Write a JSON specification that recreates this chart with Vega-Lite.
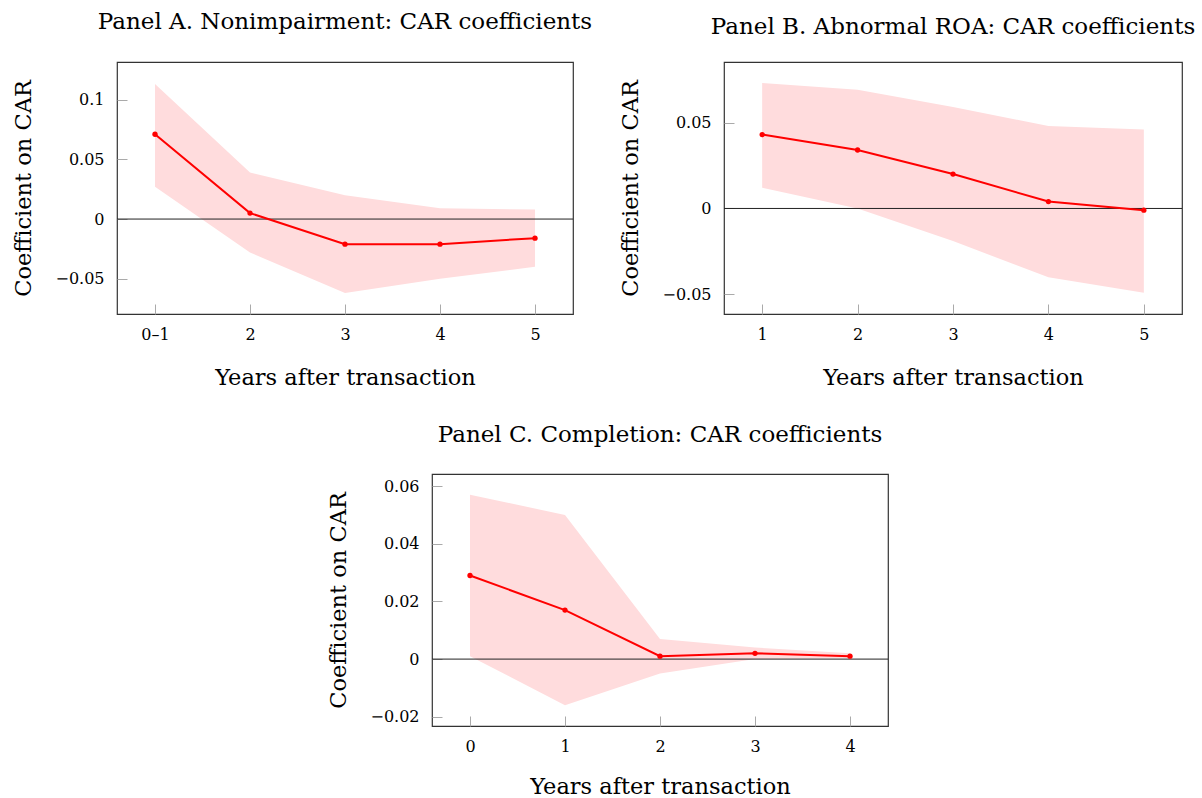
{
  "$schema": "https://vega.github.io/schema/vega-lite/v6.json",
  "background": "white",
  "padding": {"left": 12, "top": 10, "right": 0, "bottom": 0},
  "config": {
    "font": "DejaVu Serif",
    "view": {"stroke": "#333", "strokeWidth": 1.2},
    "axis": {
      "grid": false,
      "domain": false,
      "tickColor": "#aaa",
      "tickSize": -10,
      "labelFont": "DejaVu Serif",
      "labelFontSize": 16,
      "labelColor": "#000",
      "titleFont": "DejaVu Serif",
      "titleFontSize": 22.5,
      "titleFontWeight": "normal",
      "titleColor": "#000"
    },
    "axisX": {"labelPadding": 22, "titlePadding": 24, "labelAngle": 0},
    "axisY": {"labelPadding": 23, "titlePadding": 19},
    "title": {"font": "DejaVu Serif", "fontSize": 23, "fontWeight": "normal", "color": "#000"}
  },
  "datasets": {
    "nonimpairment": [
      {"period": "0–1", "coef": 0.071, "lo": 0.027, "hi": 0.113},
      {"period": "2", "coef": 0.005, "lo": -0.028, "hi": 0.039},
      {"period": "3", "coef": -0.021, "lo": -0.062, "hi": 0.020},
      {"period": "4", "coef": -0.021, "lo": -0.050, "hi": 0.009},
      {"period": "5", "coef": -0.016, "lo": -0.040, "hi": 0.008}
    ],
    "abnormal_roa": [
      {"period": "1", "coef": 0.043, "lo": 0.012, "hi": 0.073},
      {"period": "2", "coef": 0.034, "lo": 0.000, "hi": 0.069},
      {"period": "3", "coef": 0.020, "lo": -0.019, "hi": 0.059},
      {"period": "4", "coef": 0.004, "lo": -0.040, "hi": 0.048},
      {"period": "5", "coef": -0.001, "lo": -0.049, "hi": 0.046}
    ],
    "completion": [
      {"period": "0", "coef": 0.029, "lo": 0.001, "hi": 0.057},
      {"period": "1", "coef": 0.017, "lo": -0.016, "hi": 0.050},
      {"period": "2", "coef": 0.001, "lo": -0.005, "hi": 0.007},
      {"period": "3", "coef": 0.002, "lo": 0.000, "hi": 0.004},
      {"period": "4", "coef": 0.001, "lo": 0.0004, "hi": 0.002}
    ],
    "zero": [{"z": 0}]
  },
  "spacing": 33,
  "vconcat": [
    {
      "spacing": 151,
      "bounds": "flush",
      "hconcat": [
        {
          "title": {"text": "Panel A. Nonimpairment: CAR coefficients", "offset": 28},
          "width": 456,
          "height": 252,
          "layer": [
            {
              "data": {"name": "nonimpairment"},
              "mark": {"type": "area", "color": "#ffdcdd", "opacity": 1},
              "encoding": {
                "x": {"field": "period", "type": "ordinal", "sort": null, "scale": {"type": "point", "padding": 0.4}, "title": "Years after transaction"},
                "y": {"field": "lo", "type": "quantitative", "scale": {"domain": [-0.0795, 0.1315], "nice": false, "zero": false}, "axis": {"values": [-0.05, 0, 0.05, 0.1], "format": ".2~f"}, "title": "Coefficient on CAR"},
                "y2": {"field": "hi"}
              }
            },
            {
              "data": {"name": "zero"},
              "mark": {"type": "rule", "color": "#222", "strokeWidth": 1},
              "encoding": {"y": {"field": "z", "type": "quantitative"}}
            },
            {
              "data": {"name": "nonimpairment"},
              "mark": {"type": "line", "color": "red", "strokeWidth": 2, "point": {"filled": true, "color": "red", "size": 28}},
              "encoding": {
                "x": {"field": "period", "type": "ordinal", "sort": null},
                "y": {"field": "coef", "type": "quantitative"}
              }
            }
          ]
        },
        {
          "title": {"text": "Panel B. Abnormal ROA: CAR coefficients", "offset": 23},
          "width": 458,
          "height": 252,
          "layer": [
            {
              "data": {"name": "abnormal_roa"},
              "mark": {"type": "area", "color": "#ffdcdd", "opacity": 1},
              "encoding": {
                "x": {"field": "period", "type": "ordinal", "sort": null, "scale": {"type": "point", "padding": 0.4}, "title": "Years after transaction"},
                "y": {"field": "lo", "type": "quantitative", "scale": {"domain": [-0.0614, 0.0852], "nice": false, "zero": false}, "axis": {"values": [-0.05, 0, 0.05], "format": ".2~f"}, "title": "Coefficient on CAR"},
                "y2": {"field": "hi"}
              }
            },
            {
              "data": {"name": "zero"},
              "mark": {"type": "rule", "color": "#222", "strokeWidth": 1},
              "encoding": {"y": {"field": "z", "type": "quantitative"}}
            },
            {
              "data": {"name": "abnormal_roa"},
              "mark": {"type": "line", "color": "red", "strokeWidth": 2, "point": {"filled": true, "color": "red", "size": 28}},
              "encoding": {
                "x": {"field": "period", "type": "ordinal", "sort": null},
                "y": {"field": "coef", "type": "quantitative"}
              }
            }
          ]
        }
      ]
    },
    {
      "spacing": 15,
      "bounds": "flush",
      "hconcat": [
        {
          "width": 300,
          "height": 252,
          "view": {"stroke": null},
          "data": {"values": []},
          "mark": "point"
        },
        {
          "title": {"text": "Panel C. Completion: CAR coefficients", "offset": 27},
          "width": 456,
          "height": 252,
          "layer": [
            {
              "data": {"name": "completion"},
              "mark": {"type": "area", "color": "#ffdcdd", "opacity": 1},
              "encoding": {
                "x": {"field": "period", "type": "ordinal", "sort": null, "scale": {"type": "point", "padding": 0.4}, "axis": {"titlePadding": 21}, "title": "Years after transaction"},
                "y": {"field": "lo", "type": "quantitative", "scale": {"domain": [-0.0232, 0.0642], "nice": false, "zero": false}, "axis": {"values": [-0.02, 0, 0.02, 0.04, 0.06], "format": ".2~f"}, "title": "Coefficient on CAR"},
                "y2": {"field": "hi"}
              }
            },
            {
              "data": {"name": "zero"},
              "mark": {"type": "rule", "color": "#222", "strokeWidth": 1},
              "encoding": {"y": {"field": "z", "type": "quantitative"}}
            },
            {
              "data": {"name": "completion"},
              "mark": {"type": "line", "color": "red", "strokeWidth": 2, "point": {"filled": true, "color": "red", "size": 28}},
              "encoding": {
                "x": {"field": "period", "type": "ordinal", "sort": null},
                "y": {"field": "coef", "type": "quantitative"}
              }
            }
          ]
        }
      ]
    }
  ]
}
